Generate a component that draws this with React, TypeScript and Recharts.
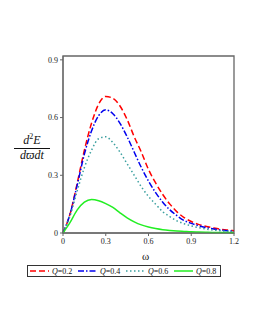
import { LineChart, Line, XAxis, YAxis, ReferenceArea } from "recharts";

const omega = [
  0, 0.05, 0.1, 0.15, 0.2, 0.25, 0.3, 0.35, 0.4, 0.45, 0.5, 0.55, 0.6, 0.65,
  0.7, 0.75, 0.8, 0.85, 0.9, 0.95, 1.0, 1.05, 1.1, 1.15, 1.2,
];

const q02 = [
  0, 0.1, 0.26, 0.43, 0.57, 0.67, 0.71, 0.7, 0.66, 0.59, 0.5, 0.42, 0.33,
  0.26, 0.2, 0.15, 0.11, 0.08, 0.06, 0.045, 0.035, 0.027, 0.02, 0.016, 0.012,
];
const q04 = [
  0, 0.1, 0.25, 0.41, 0.53, 0.61, 0.64, 0.62, 0.57, 0.5, 0.42, 0.34, 0.27,
  0.21, 0.16, 0.12, 0.09, 0.065, 0.05, 0.038, 0.029, 0.022, 0.016, 0.012,
  0.009,
];
const q06 = [
  0, 0.09, 0.22, 0.34, 0.43, 0.49, 0.5, 0.47, 0.42, 0.36, 0.3, 0.24, 0.19,
  0.15, 0.11, 0.085, 0.063, 0.048, 0.037, 0.028, 0.021, 0.016, 0.012, 0.009,
  0.007,
];
const q08 = [
  0, 0.055, 0.12, 0.16, 0.174, 0.168, 0.153, 0.133, 0.105, 0.079, 0.058,
  0.042, 0.031, 0.023, 0.017, 0.013, 0.01, 0.008, 0.006, 0.005, 0.004, 0.003,
  0.0025, 0.002, 0.0015,
];

const xTicks = [0, 0.3, 0.6, 0.9, 1.2];
const yTicks = [0, 0.3, 0.6, 0.9];

const series = [
  { key: "q02", label: "0.2", color: "#ff0000", dash: "6 3" },
  { key: "q04", label: "0.4", color: "#0000ee", dash: "6 2 1.5 2" },
  { key: "q06", label: "0.6", color: "#3a9f9f", dash: "1.5 2.5" },
  { key: "q08", label: "0.8", color: "#22ee22", dash: undefined },
];

const data = omega.map((w, i) => ({
  w,
  q02: q02[i],
  q04: q04[i],
  q06: q06[i],
  q08: q08[i],
}));

const serif = "'Liberation Serif', 'DejaVu Serif', serif";
const tickStyle = { fontSize: 8, fill: "#222", fontFamily: serif };

export default function App() {
  return (
    <div
      style={{
        position: "absolute",
        left: 0,
        top: 0,
        width: 258,
        height: 333,
        background: "#fff",
        fontFamily: serif,
      }}
    >
      <LineChart
        width={258}
        height={333}
        data={data}
        margin={{ top: 56, right: 24, left: 0, bottom: 0 }}
      >
        <XAxis
          dataKey="w"
          type="number"
          domain={[0, 1.2]}
          ticks={xTicks}
          tick={tickStyle}
          tickSize={3}
          stroke="#666"
          height={100}
          tickFormatter={(v) => String(v)}
        />
        <YAxis
          type="number"
          domain={[0, 0.92]}
          ticks={yTicks}
          tick={tickStyle}
          tickSize={3}
          stroke="#666"
          width={63}
          tickFormatter={(v) => String(v)}
        />
        <ReferenceArea
          x1={0}
          x2={1.2}
          y1={0}
          y2={0.92}
          fill="none"
          stroke="#666"
          strokeWidth={1.3}
        />
        {series.map((s) => (
          <Line
            key={s.key}
            dataKey={s.key}
            type="monotone"
            stroke={s.color}
            strokeWidth={1.5}
            strokeDasharray={s.dash}
            dot={false}
            isAnimationActive={false}
          />
        ))}
      </LineChart>

      <div
        style={{
          position: "absolute",
          left: 14,
          top: 134,
          width: 36,
          textAlign: "center",
          fontStyle: "italic",
          fontSize: 12,
          lineHeight: "13px",
          color: "#111",
        }}
      >
        <div>
          d<sup style={{ fontSize: 8, fontStyle: "normal", lineHeight: 0 }}>2</sup>
          E
        </div>
        <div style={{ borderTop: "1px solid #111", marginTop: 1 }}>dϖdt</div>
      </div>

      <div
        style={{
          position: "absolute",
          left: 142,
          top: 250,
          fontSize: 11,
          color: "#111",
        }}
      >
        ω
      </div>

      <div
        style={{
          position: "absolute",
          left: 27,
          top: 265,
          width: 192,
          height: 10,
          border: "1px solid #333",
          display: "flex",
          alignItems: "center",
          fontSize: 8,
          color: "#111",
        }}
      >
        {series.map((s) => (
          <div
            key={s.key}
            style={{ display: "flex", alignItems: "center", width: 49 }}
          >
            <svg width={20} height={6} style={{ marginLeft: 2 }}>
              <line
                x1={0}
                y1={3}
                x2={19}
                y2={3}
                stroke={s.color}
                strokeWidth={1.5}
                strokeDasharray={s.dash}
              />
            </svg>
            <span style={{ marginLeft: 2 }}>
              <i>Q</i>=0{s.label.slice(1)}
            </span>
          </div>
        ))}
      </div>
    </div>
  );
}
